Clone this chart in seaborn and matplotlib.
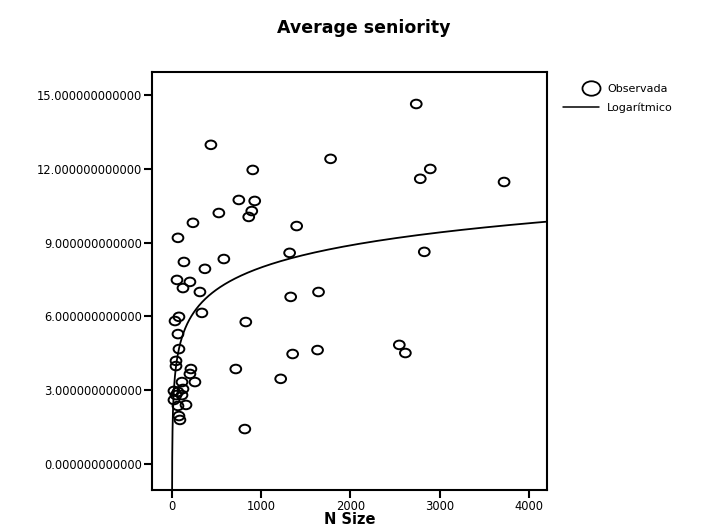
import numpy as np
import pandas as pd
import matplotlib
matplotlib.use("Agg")
import matplotlib.pyplot as plt
import seaborn as sns
from matplotlib.lines import Line2D
from matplotlib.path import Path
from matplotlib.legend_handler import HandlerLine2DCompound

n_size = [2737, 436, 1777, 905, 2894, 2782, 3721, 749, 927, 894, 525, 860, 235, 1397,
          67, 2827, 1318, 134, 581, 369, 56, 201, 123, 313, 1330, 1642, 335, 827,
          78, 34, 67, 78, 1352, 1631, 2547, 2615, 45, 45, 715, 212, 201, 1218, 112,
          257, 22, 67, 45, 112, 123, 22, 157, 67, 78, 89, 816]
seniority = [14.63, 12.97, 12.40, 11.95, 11.99, 11.59, 11.46, 10.73, 10.69, 10.28, 10.20,
             10.04, 9.80, 9.67, 9.19, 8.62, 8.58, 8.21, 8.33, 7.93, 7.48, 7.40, 7.15, 6.99,
             6.79, 6.99, 6.14, 5.77, 5.98, 5.81, 5.28, 4.67, 4.47, 4.63, 4.84, 4.51, 4.19,
             3.98, 3.86, 3.86, 3.66, 3.46, 3.33, 3.33, 2.97, 2.93, 2.80, 2.80, 3.05, 2.60,
             2.40, 2.36, 1.95, 1.79, 1.42]
y_ticks = [0, 3, 6, 9, 12, 15]
x_ticks = [0, 1000, 2000, 3000, 4000]
legend_labels = ["Observada", "Logarítmico"]

df = pd.DataFrame({"n": n_size, "s": seniority})
b, a = np.polyfit(np.log(df["n"]), df["s"], 1)

sns.set_theme(style="white")
plt.rcParams['font.family'] = ['DejaVu Sans']
for k in ["text.color", "axes.labelcolor", "xtick.color", "ytick.color"]:
    plt.rcParams[k] = "black"

fig = plt.figure(figsize=(7.01, 5.29), dpi=100)
ax = fig.add_axes([152/701, 39/529, 395/701, 418/529])

# slightly flattened circle marker, as in the reference
uc = Path.unit_circle()
ell = Path(uc.vertices * np.array([1.0, 0.8]), uc.codes)

xmin, xmax = -224, 4202
xs = np.geomspace(0.5, xmax, 600)
fit_df = pd.DataFrame({"n": xs, "s": a + b * np.log(xs)})
sns.lineplot(data=fit_df, x="n", y="s", ax=ax, color="black", lw=1.3, sort=False)
sns.scatterplot(data=df, x="n", y="s", ax=ax, marker=ell, s=60,
                facecolor="none", edgecolor="black", linewidth=1.4)

ax.set_xlim(xmin, xmax)
ax.set_ylim(-1.057, 15.93)
ax.set_xticks(x_ticks)
ax.set_xticklabels([str(t) for t in x_ticks], fontsize=8.3)
ax.set_yticks(y_ticks)
ax.set_yticklabels([f"{t:.12f}" for t in y_ticks], fontsize=8.3)
ax.tick_params(axis="both", direction="out", length=5.5, width=1.5,
               left=True, bottom=True, pad=1.5)
for sp in ax.spines.values():
    sp.set_color("black")
    sp.set_linewidth(1.5)
ax.set_xlabel("N Size", fontsize=10.5, fontweight="bold", labelpad=0)
ax.xaxis.set_label_coords(0.5, -0.052)
ax.set_ylabel("")

fig.text(364/701, 1 - 28/529, "Average seniority", ha="center", va="center",
         fontsize=12.5, fontweight="bold")


class RightMarker(HandlerLine2DCompound):
    def get_xdata(self, legend, xdescent, ydescent, width, height, fontsize):
        xd = np.array([-xdescent, -xdescent + width])
        return xd, np.array([-xdescent + 0.78 * width])


handles = [Line2D([], [], marker=ell, ls="none", mfc="none", mec="black", ms=13, mew=1.3),
           Line2D([], [], color="black", lw=1.1)]
fig.legend(handles, legend_labels, loc="upper left",
           bbox_to_anchor=(563/701, 1 - 84/529), frameon=False, fontsize=8,
           handlelength=3.25, handletextpad=0.7, labelspacing=0.75, borderaxespad=0,
           borderpad=0, numpoints=1,
           handler_map={handles[0]: RightMarker(numpoints=1)})

fig.savefig("out.png", dpi=100)
